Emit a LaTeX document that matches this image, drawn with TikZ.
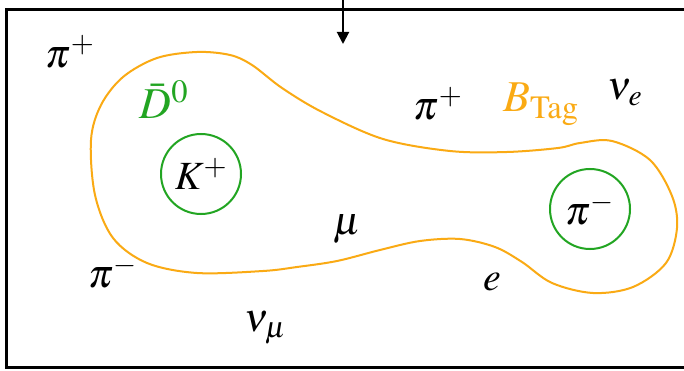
\documentclass[tikz,border=0pt]{standalone}
\usepackage{mathptmx}
\usetikzlibrary{arrows.meta}
\definecolor{tagorange}{RGB}{250,170,20}
\definecolor{dgreen}{RGB}{34,165,34}
\tikzset{
  lbl/.style={inner sep=0pt, font=\fontsize{40}{48}\selectfont},
  biglbl/.style={inner sep=0pt, font=\fontsize{44}{52}\selectfont},
  ring/.style={circle, draw=dgreen, line width=2pt, minimum size=80pt, inner sep=0pt, font=\fontsize{40}{48}\selectfont},
  frame/.style={line width=3pt},
  beam/.style={line width=2pt, -{Triangle[length=12pt,width=12pt]}},
  tagline/.style={draw=tagorange, line width=2pt}
}
\begin{document}
\begin{tikzpicture}[x=1pt,y=-1pt]
\useasboundingbox (0,0) rectangle (684,371);
\fill[white] (0,0) rectangle (684,371);
\draw[frame] (6,10) rectangle (720,367);
\coordinate (src) at (343,-5);
\coordinate (tip) at (343,44);
\draw[beam] (src) -- (tip);
\draw[tagline] plot[smooth cycle, tension=0.55] coordinates {
 (91,140) (101,105) (123,77) (157,58) (197,52) (230,55) (252,65)
 (282,88) (322,112) (383,139) (450,151) (507,152) (558,148) (580,143)
 (612,141) (650,160) (672,196) (677,228) (666,263) (633,287) (593,293)
 (552,283) (522,262) (495,247) (460,239) (420,241) (380,250) (337,261)
 (297,267) (263,271) (197,273) (147,263) (113,238) (95,195)};
\node[ring] (kaon) at (201,174) {$K^+$};
\node[ring] (pim) at (590,209) {$\pi^-$};
\node[biglbl, text=dgreen] (dbar) at (164,100) {$\bar{D}^0$};
\node[biglbl, text=tagorange] (btag) at (541,104) {$B_{\mathrm{Tag}}$};
\node[lbl] (pip1) at (70,52) {$\pi^+$};
\node[lbl] (pip2) at (438,104) {$\pi^+$};
\node[lbl] (nue) at (625,93) {$\nu_e$};
\node[lbl] (mu) at (347,229) {$\mu$};
\node[lbl] (pim2) at (113,272) {$\pi^-$};
\node[lbl] (el) at (492,282) {$e$};
\node[lbl] (numu) at (265,328) {$\nu_\mu$};
\end{tikzpicture}
\end{document}
